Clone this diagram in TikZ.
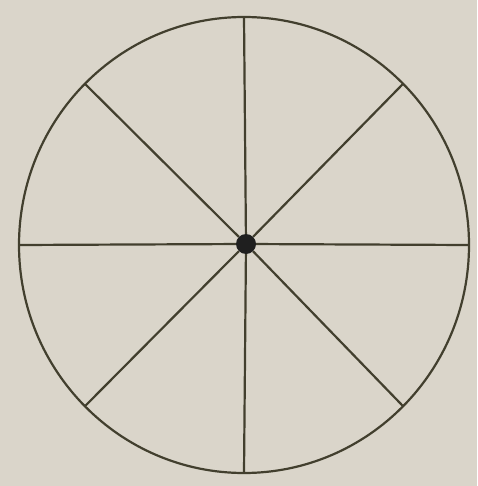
\documentclass[tikz,border=0pt]{standalone}
\usetikzlibrary{calc}
\begin{document}
\begin{tikzpicture}[x=1pt,y=-1pt,
  ink/.style={draw=black!80!olive, line width=2.2pt},
  hub/.style={circle, fill=black!88, inner sep=0pt, minimum size=20pt}]
\definecolor{paper}{HTML}{DAD5CA}
\fill[paper] (0,0) rectangle (477,486);
\useasboundingbox (0,0) rectangle (477,486);
\draw[ink, draw=black!70!olive] (244,245) ellipse [x radius=225, y radius=228];
\node[hub] (c) at (246,244) {};
\foreach \a/\n in {0/e,45/ne,90/n,135/nw,180/w,225/sw,270/s,315/se}{
  \coordinate (\n) at ($(244,245)+({225*cos(\a)},{-228*sin(\a)})$);
  \draw[ink, draw=black!70!olive] (c) -- (\n);
}
\end{tikzpicture}
\end{document}
